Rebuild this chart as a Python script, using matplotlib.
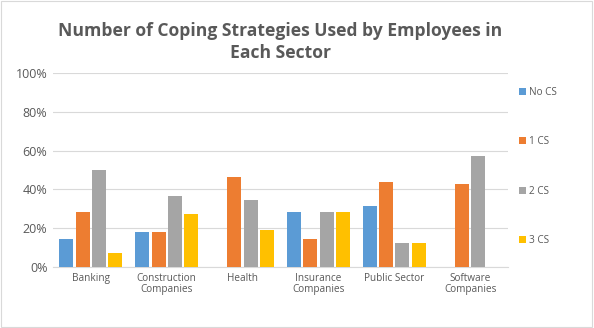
import matplotlib.pyplot as plt
import numpy as np
from matplotlib.patches import Rectangle

categories = ["Banking", "Construction\nCompanies", "Health", "Insurance\nCompanies",
              "Public Sector", "Software\nCompanies"]
series_names = ["No CS", "1 CS", "2 CS", "3 CS"]
no_cs = [14.3, 18.2, 0, 28.6, 31.3, 0]
one_cs = [28.6, 18.2, 46.2, 14.3, 43.8, 42.9]
two_cs = [50.0, 36.4, 34.6, 28.6, 12.5, 57.1]
three_cs = [7.1, 27.3, 19.2, 28.6, 12.5, 0]
colors = ["#5B9BD5", "#ED7D31", "#A5A5A5", "#FFC000"]

plt.rcParams["font.family"] = ["Open Sans", "DejaVu Sans"]

fig = plt.figure(figsize=(5.94, 3.28), dpi=100)
ax = fig.add_axes([53 / 594, 1 - 267 / 328, 455 / 594, 194 / 328])

x = np.arange(len(categories))
width = 0.185
step = 0.215
for i, (vals, name) in enumerate(zip([no_cs, one_cs, two_cs, three_cs], series_names)):
    ax.bar(x + (i - 1.5) * step, vals, width, color=colors[i], label=name, zorder=3)

ax.set_xlim(-0.5, len(categories) - 0.5)
ax.set_ylim(0, 100)
ax.set_yticks(np.arange(0, 101, 20))
ax.set_yticklabels([f"{v}%" for v in range(0, 101, 20)], fontsize=9, color="#595959")
ax.set_xticks(x)
ax.set_xticklabels(categories, fontsize=7.2, color="#595959", linespacing=1.1)
ax.tick_params(length=0, pad=4)
ax.grid(axis="y", color="#D9D9D9", lw=0.8, zorder=0)
for s in ["top", "right", "left"]:
    ax.spines[s].set_visible(False)
ax.spines["bottom"].set_color("#D9D9D9")

fig.text(280 / 594, 1 - 42 / 328,
         "Number of Coping Strategies Used by Employees in\nEach Sector",
         ha="center", va="center", fontsize=12.6, fontweight="bold", color="#595959",
         linespacing=1.25)

ax.legend(loc="upper left", bbox_to_anchor=(1.005, 0.975), frameon=False,
          fontsize=7.2, labelcolor="#595959", labelspacing=3.85,
          handlelength=0.7, handleheight=0.7, handletextpad=0.3)

fig.patches.append(Rectangle((0.002, 0.003), 0.995, 0.994, transform=fig.transFigure,
                             fill=False, edgecolor="#D9D9D9", lw=0.8))

fig.savefig("out.png", dpi=100)
